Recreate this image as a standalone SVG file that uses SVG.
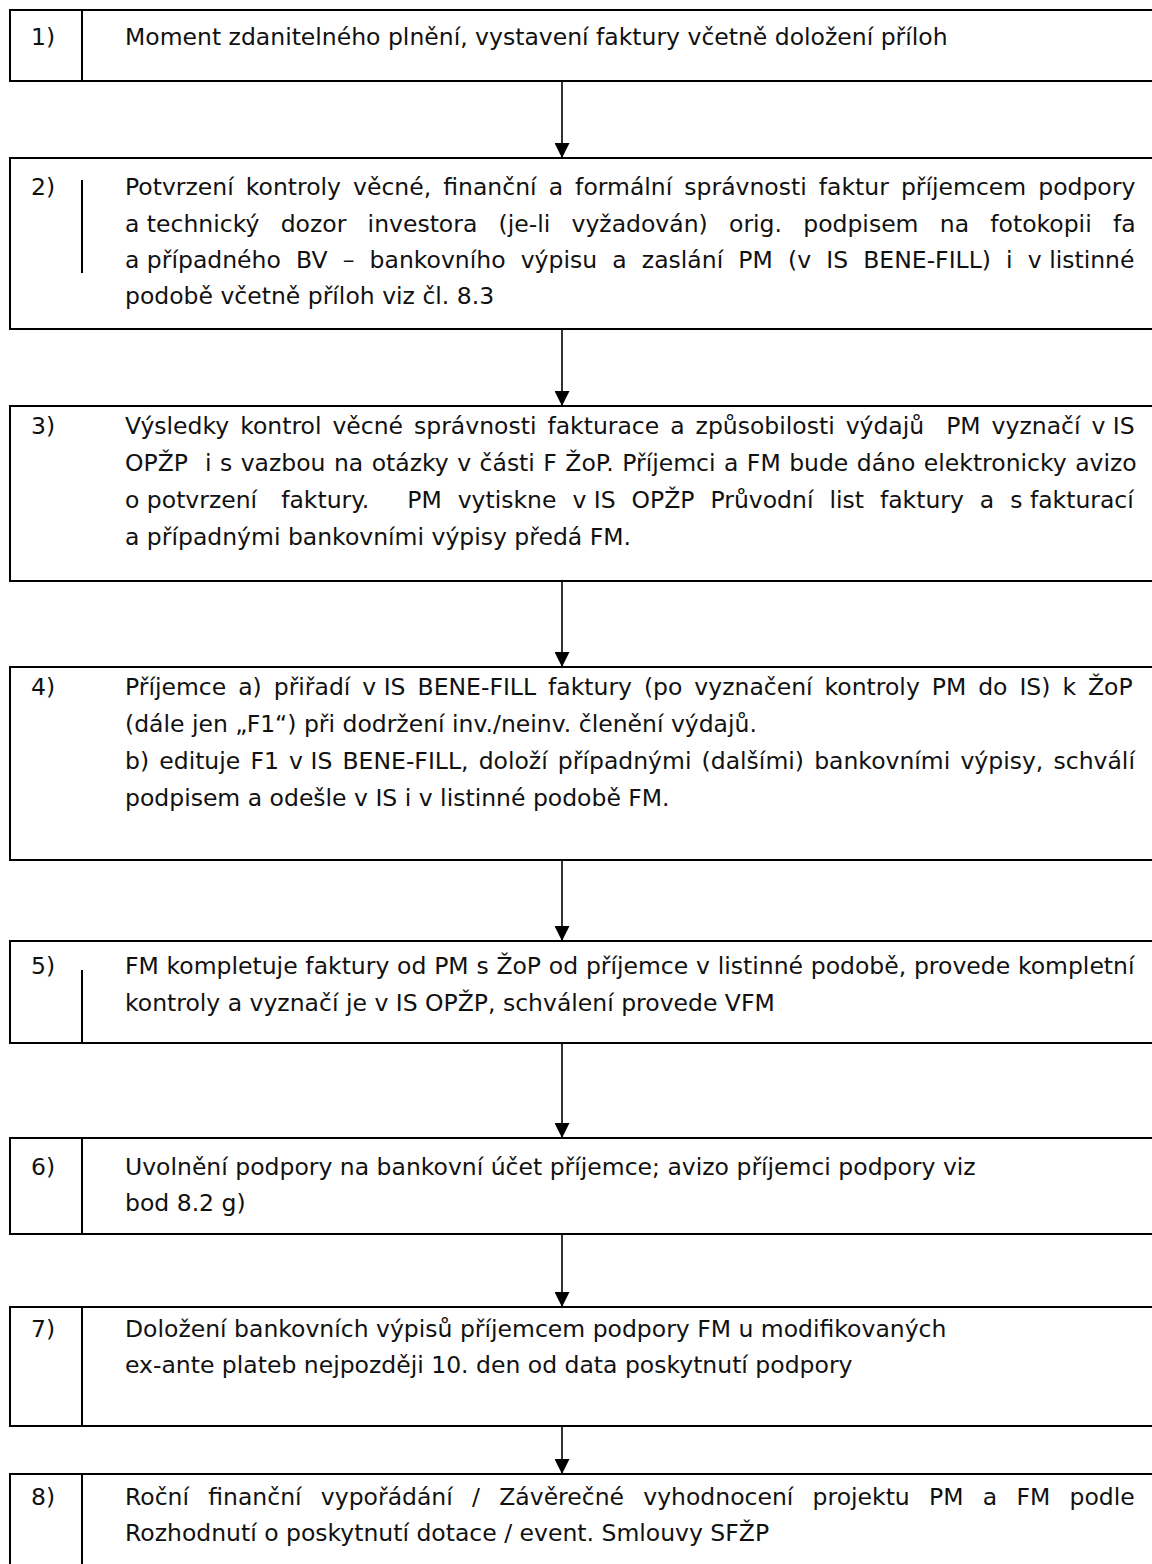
<svg xmlns="http://www.w3.org/2000/svg" width="1152" height="1564" viewBox="0 0 1152 1564">
<defs>
<style>
.box{fill:#fff;stroke:#000;stroke-width:2}
.div{stroke:#000;stroke-width:2}
.t{font-family:"DejaVu Sans",sans-serif;font-size:23.5px;fill:#111}
.k{word-spacing:0}
.conn{stroke:#000;stroke-width:1.6;fill:none}
</style>
<marker id="ah" viewBox="0 0 10 10" refX="10" refY="5" markerWidth="15" markerHeight="15" markerUnits="userSpaceOnUse" orient="auto">
<path d="M0,0 L10,5 L0,10 z" fill="#000"/>
</marker>
</defs>
<rect width="1152" height="1564" fill="#fff"/>

<g id="connectors">
<line class="conn" x1="562" y1="81" x2="562" y2="158" marker-end="url(#ah)"/>
<line class="conn" x1="562" y1="329" x2="562" y2="406" marker-end="url(#ah)"/>
<line class="conn" x1="562" y1="581" x2="562" y2="667" marker-end="url(#ah)"/>
<line class="conn" x1="562" y1="860" x2="562" y2="941" marker-end="url(#ah)"/>
<line class="conn" x1="562" y1="1043" x2="562" y2="1138" marker-end="url(#ah)"/>
<line class="conn" x1="562" y1="1234" x2="562" y2="1307" marker-end="url(#ah)"/>
<line class="conn" x1="562" y1="1426" x2="562" y2="1474" marker-end="url(#ah)"/>
</g>

<g id="node1">
<rect class="box" x="10" y="10" width="1160" height="71"/>
<line class="div" x1="82" y1="10" x2="82" y2="81"/>
<text class="t" x="31" y="45">1)</text>
<text class="t" x="125" y="45">Moment zdanitelného plnění, vystavení faktury včetně doložení příloh</text>
</g>

<g id="node2">
<rect class="box" x="10" y="158" width="1160" height="171"/>
<line class="div" x1="82" y1="180" x2="82" y2="273"/>
<text class="t" x="31" y="195">2)</text>
<text class="t" x="125" y="195" style="word-spacing:4.6px">Potvrzení kontroly věcné, finanční a formální správnosti faktur příjemcem podpory</text>
<text class="t" x="125" y="232" style="word-spacing:13.8px"><tspan class="k">a technický</tspan> dozor investora (je-li vyžadován) orig. podpisem na fotokopii fa</text>
<text class="t" x="125" y="268" style="word-spacing:7.7px"><tspan class="k">a případného</tspan> BV – bankovního výpisu a zaslání PM (v IS BENE-FILL) i <tspan class="k">v listinné</tspan></text>
<text class="t" x="125" y="304">podobě včetně příloh viz čl. 8.3</text>
</g>

<g id="node3">
<rect class="box" x="10" y="406" width="1160" height="175"/>
<text class="t" x="31" y="434">3)</text>
<text class="t" x="125" y="434" style="word-spacing:3.5px">Výsledky kontrol věcné správnosti fakturace a způsobilosti výdajů <tspan dx="11">PM</tspan> vyznačí <tspan class="k">v IS</tspan></text>
<text class="t" x="125" y="471" style="word-spacing:1px">OPŽP <tspan dx="8.5">i</tspan> s vazbou na otázky v části F ŽoP. Příjemci a FM bude dáno elektronicky avizo</text>
<text class="t" x="125" y="508" style="word-spacing:8.5px"><tspan class="k">o potvrzení</tspan> <tspan dx="8">faktury.</tspan> <tspan dx="22">PM</tspan> vytiskne <tspan class="k">v IS</tspan> OPŽP Průvodní list faktury a <tspan class="k">s fakturací</tspan></text>
<text class="t" x="125" y="545">a případnými bankovními výpisy předá FM.</text>
</g>

<g id="node4">
<rect class="box" x="10" y="667" width="1160" height="193"/>
<text class="t" x="31" y="695">4)</text>
<text class="t" x="125" y="695" style="word-spacing:4.5px">Příjemce a) přiřadí <tspan class="k">v IS</tspan> BENE-FILL faktury (po vyznačení kontroly PM do IS) k ŽoP</text>
<text class="t" x="125" y="732">(dále jen „F1“) při dodržení inv./neinv. členění výdajů.</text>
<text class="t" x="125" y="769" style="word-spacing:2.7px">b) edituje F1 <tspan class="k">v IS</tspan> BENE-FILL, doloží případnými (dalšími) bankovními výpisy, schválí</text>
<text class="t" x="125" y="806">podpisem a odešle v IS i v listinné podobě FM.</text>
</g>

<g id="node5">
<rect class="box" x="10" y="941" width="1160" height="102"/>
<line class="div" x1="82" y1="970" x2="82" y2="1043"/>
<text class="t" x="31" y="974">5)</text>
<text class="t" x="125" y="974" style="word-spacing:0.3px">FM kompletuje faktury od PM s ŽoP od příjemce v listinné podobě, provede kompletní</text>
<text class="t" x="125" y="1011">kontroly a vyznačí je v IS OPŽP, schválení provede VFM</text>
</g>

<g id="node6">
<rect class="box" x="10" y="1138" width="1160" height="96"/>
<line class="div" x1="82" y1="1138" x2="82" y2="1234"/>
<text class="t" x="31" y="1175">6)</text>
<text class="t" x="125" y="1175">Uvolnění podpory na bankovní účet příjemce; avizo příjemci podpory viz</text>
<text class="t" x="125" y="1211">bod 8.2 g)</text>
</g>

<g id="node7">
<rect class="box" x="10" y="1307" width="1160" height="119"/>
<line class="div" x1="82" y1="1307" x2="82" y2="1426"/>
<text class="t" x="31" y="1337">7)</text>
<text class="t" x="125" y="1337">Doložení bankovních výpisů příjemcem podpory FM u modifikovaných</text>
<text class="t" x="125" y="1373">ex-ante plateb nejpozději 10. den od data poskytnutí podpory</text>
</g>

<g id="node8">
<rect class="box" x="10" y="1474" width="1160" height="120"/>
<line class="div" x1="82" y1="1474" x2="82" y2="1594"/>
<text class="t" x="31" y="1505">8)</text>
<text class="t" x="125" y="1505" style="word-spacing:11.8px">Roční finanční vypořádání / Závěrečné vyhodnocení projektu PM a FM podle</text>
<text class="t" x="125" y="1541">Rozhodnutí o poskytnutí dotace / event. Smlouvy SFŽP</text>
</g>
</svg>
